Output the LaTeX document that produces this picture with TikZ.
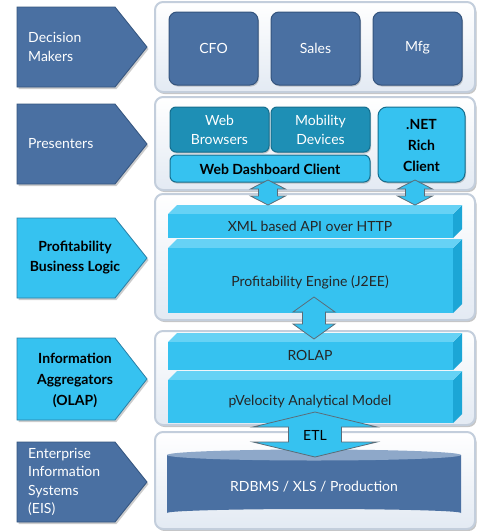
\documentclass[tikz,border=0pt]{standalone}
\usepackage{fontspec}
\setmainfont{Lato}
\usetikzlibrary{shadows}
\definecolor{dkblue}{HTML}{4A70A2}
\definecolor{dkborder}{HTML}{34547E}
\definecolor{ltblue}{HTML}{36C2F0}
\definecolor{ltborder}{HTML}{2A7FA6}
\definecolor{teal}{HTML}{1E8FB5}
\definecolor{tealborder}{HTML}{156E8E}
\definecolor{bartopc}{HTML}{66D2F5}
\definecolor{barrightc}{HTML}{1CA6D6}
\definecolor{panelborder}{HTML}{C3CEDC}
\definecolor{panelbot}{HTML}{E3EAF3}
\definecolor{cyltop}{HTML}{8EA8C9}
\definecolor{arrowborder}{HTML}{5B6C78}
\tikzset{
  lbl/.style={font=\fontsize{14}{19}\selectfont, align=center, inner sep=0pt},
  panel/.style={draw=panelborder, line width=2pt, rounded corners=8pt, top color=white, bottom color=panelbot, drop shadow={shadow xshift=1.5pt, shadow yshift=-2pt, opacity=0.45}},
  darkpent/.style={fill=dkblue, draw=dkborder, line width=0.8pt, drop shadow={shadow xshift=1.5pt, shadow yshift=-2pt, opacity=0.4}},
  lightpent/.style={fill=ltblue, draw=ltborder, line width=0.8pt, drop shadow={shadow xshift=1.5pt, shadow yshift=-2pt, opacity=0.4}},
  btn/.style={fill=dkblue, draw=dkborder, line width=1pt, rounded corners=8pt, drop shadow={shadow xshift=1pt, shadow yshift=-1.5pt, opacity=0.4}},
  tealbtn/.style={fill=teal, draw=tealborder, line width=1pt, rounded corners=6pt, drop shadow={shadow xshift=1pt, shadow yshift=-1.5pt, opacity=0.4}},
  ltbtn/.style={fill=ltblue, draw=tealborder, line width=1pt, rounded corners=6pt, drop shadow={shadow xshift=1pt, shadow yshift=-1.5pt, opacity=0.4}},
  barfront/.style={fill=ltblue},
  bartop/.style={fill=bartopc},
  barright/.style={fill=barrightc},
  arrowsty/.style={fill=ltblue, draw=arrowborder, line width=0.8pt, line join=miter}
}
\newcommand\pentagon[5]{% style, x0, y0, x1, y1
  \path[#1] (#2,#3) -- (115,#3) -- (#4,{(#3+#5)/2}) -- (115,#5) -- (#2,#5) -- cycle;}
\newcommand\threedbar[4]{% x0, yfronttop, x1, ybottom
  \fill[barright] (#3,#2) -- (#3+9,#2-9) -- (#3+9,#4-9) -- (#3,#4) -- cycle;
  \fill[bartop] (#1,#2) -- (#1+9,#2-9) -- (#3+9,#2-9) -- (#3,#2) -- cycle;
  \fill[barfront] (#1,#2) rectangle (#3,#4);}
\newcommand\dblarrow[6]{% cx, ytop, ybot, halfhead, halfshaft, headlen
  \path[arrowsty] (#1,#2) -- (#1+#4,#2+#6) -- (#1+#5,#2+#6) -- (#1+#5,#3-#6) -- (#1+#4,#3-#6) -- (#1,#3) -- (#1-#4,#3-#6) -- (#1-#5,#3-#6) -- (#1-#5,#2+#6) -- (#1-#4,#2+#6) -- cycle;}
\begin{document}
\begin{tikzpicture}[x=1pt,y=-1pt]
\useasboundingbox (0,0) rectangle (483,531);
% ---------- panels ----------
\path[panel] (155,2) rectangle (475,92);
\path[panel] (155,97) rectangle (475,190);
\path[panel] (155,194) rectangle (475,320);
\path[panel] (155,331) rectangle (475,425);
\path[panel] (155,432) rectangle (475,529);
% ---------- pentagons ----------
\pentagon{darkpent}{17}{7}{147}{87}
\pentagon{darkpent}{17}{104}{147}{184}
\pentagon{lightpent}{17}{218}{147}{298}
\pentagon{lightpent}{17}{338}{147}{420}
\pentagon{darkpent}{17}{442}{147}{522}
\node[lbl, text=white, align=left, anchor=west] (dm) at (28,47) {Decision\\Makers};
\node[lbl, text=white, align=left, anchor=west] (pr) at (28,144) {Presenters};
\node[lbl, font=\fontsize{14}{20}\selectfont\bfseries] (pbl) at (75,258) {Profitability\\Business Logic};
\node[lbl, font=\fontsize{14}{21}\selectfont\bfseries] (ia) at (75,380) {Information\\Aggregators\\(OLAP)};
\node[lbl, text=white, align=left, anchor=west, font=\fontsize{14}{18.5}\selectfont] (eis) at (28,482) {Enterprise\\Information\\Systems\\(EIS)};
% ---------- row 1 ----------
\path[btn] (169,12) rectangle (258,85);
\path[btn] (271,12) rectangle (360,85);
\path[btn] (373,12) rectangle (462,85);
\node[lbl, text=white] (cfo) at (213.5,48) {CFO};
\node[lbl, text=white] (sales) at (315.5,48) {Sales};
\node[lbl, text=white] (mfg) at (417.5,48) {Mfg};
% ---------- row 2 ----------
\path[tealbtn] (170,107) rectangle (269,152);
\path[tealbtn] (271,107) rectangle (370,152);
\path[ltbtn] (170,155) rectangle (370,182);
\path[ltbtn, rounded corners=9pt] (378,107) rectangle (465,182);
\node[lbl, text=white] (wb) at (219.5,130) {Web\\Browsers};
\node[lbl, text=white] (md) at (320.5,130) {Mobility\\Devices};
\node[lbl, font=\fontsize{14}{19}\selectfont\bfseries] (wdc) at (270,169) {Web Dashboard Client};
\node[lbl, font=\fontsize{14}{21}\selectfont\bfseries] (net) at (421.5,145) {.NET\\Rich\\Client};
% ---------- row 3 ----------
\threedbar{168}{248}{453}{313}
\threedbar{168}{214}{453}{238}
\node[lbl, text=black!85] (xml) at (310,226) {XML based API over HTTP};
\node[lbl, text=black!85] (eng) at (310,282) {Profitability Engine (J2EE)};
% ---------- row 4 ----------
\threedbar{168}{380}{453}{423}
\threedbar{168}{342}{453}{370}
\node[lbl, text=black!85] (rolap) at (310,355) {ROLAP};
\node[lbl, text=black!85] (pvel) at (310,402) {pVelocity Analytical Model};
% ---------- row 5 : cylinder ----------
\fill[dkblue] (167,455) -- (167,513) arc[start angle=180, end angle=360, x radius=147, y radius=4] -- (461,455) -- cycle;
\fill[cyltop] (314,455) ellipse[x radius=147, y radius=5.5];
\node[lbl, text=white] (db) at (314,487) {RDBMS / XLS / Production};
% ---------- block arrows ----------
\dblarrow{268}{180}{205}{17.5}{9.5}{9}
\dblarrow{415}{180}{205}{17.5}{9.5}{9}
\dblarrow{314}{297}{339}{21}{11.5}{15}
\dblarrow{315}{412}{457}{62}{26.5}{15}
\node[lbl, text=black] (etl) at (315,435) {ETL};
\end{tikzpicture}
\end{document}
